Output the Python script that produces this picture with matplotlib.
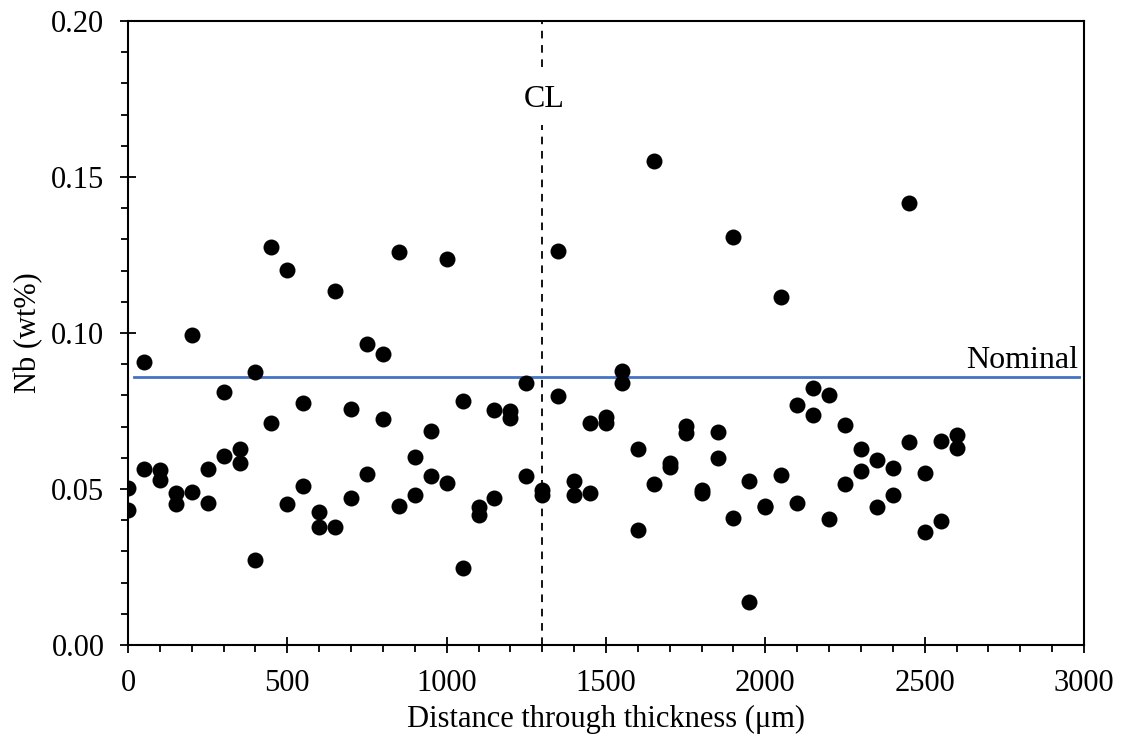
import numpy as np
import matplotlib
matplotlib.use('Agg')
import matplotlib.pyplot as plt

plt.rcParams['font.family'] = ['Liberation Serif', 'DejaVu Serif']
plt.rcParams['lines.scale_dashes'] = False

# distance through thickness (um) and Nb content (wt%)
dist = [0, 0, 50, 50, 100, 100, 150, 150, 200, 200, 250, 250, 300, 300,
        350, 350, 400, 400, 450, 450, 500, 500, 550, 550, 600, 600, 650, 650,
        700, 700, 750, 750, 800, 800, 850, 850, 900, 900, 950, 950, 1000, 1000,
        1050, 1050, 1100, 1100, 1150, 1150, 1200, 1200, 1250, 1250, 1300, 1300,
        1350, 1350, 1400, 1400, 1450, 1450, 1500, 1500, 1550, 1550, 1600, 1600,
        1650, 1650, 1700, 1700, 1750, 1750, 1800, 1800, 1850, 1850, 1900, 1900,
        1950, 1950, 2000, 2000, 2050, 2050, 2100, 2100, 2150, 2150, 2200, 2200,
        2250, 2250, 2300, 2300, 2350, 2350, 2400, 2400, 2450, 2450, 2500, 2500,
        2550, 2550, 2600, 2600]
nb = [0.0502, 0.0433, 0.0906, 0.0563, 0.0561, 0.0529, 0.0488, 0.0452,
      0.0994, 0.0489, 0.0564, 0.0456, 0.0810, 0.0606, 0.0627, 0.0584,
      0.0874, 0.0272, 0.1277, 0.0711, 0.1202, 0.0451, 0.0777, 0.0510,
      0.0427, 0.0379, 0.1135, 0.0379, 0.0756, 0.0472, 0.0965, 0.0548,
      0.0932, 0.0723, 0.1259, 0.0447, 0.0601, 0.0481, 0.0686, 0.0540,
      0.1236, 0.0520, 0.0782, 0.0248, 0.0443, 0.0417, 0.0753, 0.0472,
      0.0751, 0.0726, 0.0841, 0.0540, 0.0497, 0.0481, 0.1263, 0.0798,
      0.0526, 0.0481, 0.0711, 0.0486, 0.0732, 0.0713, 0.0879, 0.0839,
      0.0627, 0.0369, 0.1552, 0.0515, 0.0584, 0.0572, 0.0702, 0.0678,
      0.0497, 0.0486, 0.0682, 0.0598, 0.1309, 0.0406, 0.0527, 0.0139,
      0.0447, 0.0443, 0.1114, 0.0545, 0.0769, 0.0456, 0.0823, 0.0737,
      0.0801, 0.0403, 0.0705, 0.0515, 0.0627, 0.0559, 0.0593, 0.0443,
      0.0568, 0.0481, 0.1416, 0.0652, 0.0552, 0.0363, 0.0655, 0.0397,
      0.0673, 0.0630]

nominal = 0.086
centreline = 1300

fig = plt.figure(figsize=(11.21, 7.44), dpi=100)
ax = fig.add_axes([0.1142, 0.1331, 0.8528, 0.8387])

ax.plot([20, 2985], [nominal, nominal], color='#4472C4', lw=2.0, zorder=2)
ax.plot(dist, nb, 'o', color='black', markersize=11.5, markeredgewidth=0, zorder=3)

ax.axvline(centreline, ymin=0, ymax=0.834, color='black', lw=1.3, dashes=(5.5, 4.8), zorder=1)
ax.axvline(centreline, ymin=0.927, ymax=1, color='black', lw=1.3, dashes=(5.5, 4.8), zorder=1)
ax.text(centreline + 5, 0.1748, 'CL', ha='center', va='center', fontsize=23)
ax.text(2980, 0.0888, 'Nominal', ha='right', va='baseline', fontsize=23)

ax.set_xlim(0, 3000)
ax.set_ylim(0, 0.20)
ax.set_xticks(np.arange(0, 3001, 500))
ax.set_xticks(np.arange(0, 3001, 100), minor=True)
ax.set_yticks(np.arange(0, 0.201, 0.05))
ax.set_yticks(np.arange(0, 0.201, 0.01), minor=True)
ax.set_yticklabels(['%.2f' % v for v in np.arange(0, 0.201, 0.05)])

ax.tick_params(which='major', direction='inout', length=12, width=1.3, labelsize=22, pad=11)
ax.tick_params(which='minor', direction='out', length=5, width=1.3)
ax.tick_params(top=False, right=False)
for s in ax.spines.values():
    s.set_linewidth(1.5)

ax.set_xlabel('Distance through thickness (\u03bcm)', fontsize=22, labelpad=5)
ax.set_ylabel('Nb (wt%)', fontsize=22, labelpad=6)

fig.savefig('out.png', dpi=100)
